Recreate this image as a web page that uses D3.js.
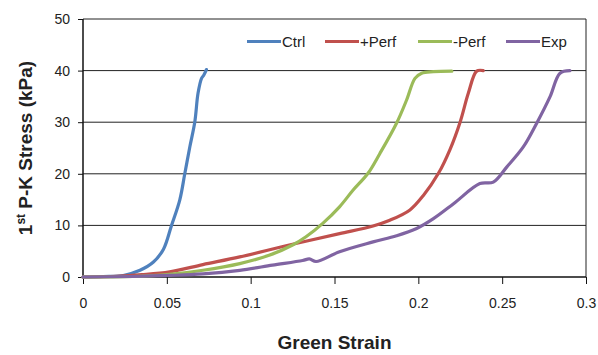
<!DOCTYPE html>
<html>
<head>
<meta charset="utf-8">
<script src="https://cdn.jsdelivr.net/npm/d3@7"></script>
<style>
  body { margin: 0; background: #fff; }
  text { font-family: "Liberation Sans", Arial, sans-serif; }
</style>
</head>
<body>
<div id="chart"></div>
<script>
// strain / stress pairs
const seriesNames = ["Ctrl", "+Perf", "-Perf", "Exp"];
const seriesColors = ["#4F81BD", "#C0504D", "#9BBB59", "#8064A2"];

const ctrlStrain  = [0, 0.012, 0.024, 0.034, 0.042, 0.048, 0.0527, 0.0577, 0.0607, 0.0637, 0.0667, 0.0686, 0.0707, 0.072, 0.0736];
const ctrlStress  = [0, 0.1, 0.3, 1.3, 2.9, 5.4, 9.9, 14.9, 20, 25.2, 30.1, 35.6, 38.5, 39.1, 40.2];

const posStrain   = [0, 0.02, 0.035, 0.0517, 0.0715, 0.0935, 0.123, 0.153, 0.173, 0.183, 0.195, 0.203, 0.212, 0.219, 0.225, 0.2298, 0.2348, 0.2387];
const posStress   = [0, 0.15, 0.45, 1.0, 2.4, 3.9, 6.2, 8.4, 9.9, 11, 13.0, 15.8, 20.1, 24.8, 30.1, 35.6, 39.9, 40];

const negStrain   = [0, 0.03, 0.0516, 0.0716, 0.0935, 0.111, 0.125, 0.133, 0.143, 0.153, 0.161, 0.170, 0.177, 0.187, 0.193, 0.198, 0.202, 0.209, 0.22];
const negStress   = [0, 0.1, 0.5, 1.3, 2.6, 4.2, 6.2, 7.8, 10.4, 13.6, 16.8, 20.1, 23.9, 29.8, 34.3, 38.5, 39.5, 39.8, 39.9];

const expStrain   = [0, 0.03, 0.0517, 0.0715, 0.0935, 0.113, 0.131, 0.135, 0.139, 0.153, 0.173, 0.187, 0.199, 0.209, 0.221, 0.2367, 0.2447, 0.2527, 0.2626, 0.2706, 0.2785, 0.2845, 0.2904];
const expStress   = [0, 0.1, 0.3, 0.6, 1.3, 2.3, 3.2, 3.5, 3.0, 4.9, 6.8, 8.0, 9.4, 11.3, 14.2, 18.1, 18.4, 21.3, 25.2, 29.8, 34.9, 39.5, 40];

const xTicks = [0, 0.05, 0.1, 0.15, 0.2, 0.25, 0.3];
const yTicks = [0, 10, 20, 30, 40, 50];

const allStrain = [ctrlStrain, posStrain, negStrain, expStrain];
const allStress = [ctrlStress, posStress, negStress, expStress];

const width = 598, height = 355;
const margin = {top: 19, right: 12, bottom: 78, left: 83};
const w = width - margin.left - margin.right;
const h = height - margin.top - margin.bottom;

const svg = d3.select("#chart").append("svg")
    .attr("width", width)
    .attr("height", height);

const g = svg.append("g")
    .attr("transform", `translate(${margin.left},${margin.top})`);

const x = d3.scaleLinear().domain([0, 0.3]).range([0, w]);
const y = d3.scaleLinear().domain([0, 50]).range([h, 0]);

// gridlines
g.append("g")
    .selectAll("line")
    .data(yTicks.filter(d => d > 0))
    .enter().append("line")
    .attr("x1", 0).attr("x2", w)
    .attr("y1", d => y(d)).attr("y2", d => y(d))
    .attr("stroke", "#222")
    .attr("stroke-width", 1);

// right border
g.append("line")
    .attr("x1", w).attr("x2", w)
    .attr("y1", 0).attr("y2", h)
    .attr("stroke", "#222");

// axes
const xAxis = g.append("g")
    .attr("transform", `translate(0,${h})`)
    .call(d3.axisBottom(x).tickValues(xTicks).tickSize(7).tickPadding(14)
        .tickFormat(d => d3.format("")(+d.toFixed(2))));
const yAxis = g.append("g")
    .call(d3.axisLeft(y).tickValues(yTicks).tickSize(5).tickPadding(8));

[xAxis, yAxis].forEach(a => {
    a.select(".domain").attr("stroke", "#111").attr("stroke-width", 1.5);
    a.selectAll(".tick line").attr("stroke", "#111");
    a.selectAll("text").attr("font-size", 14).attr("fill", "#222")
        .style("font-family", "Liberation Sans, Arial, sans-serif");
});
xAxis.select(".domain").attr("d", `M0,0H${w}`);
yAxis.select(".domain").attr("d", `M0,${h}V0`);

// lines
const line = d3.line()
    .x(d => x(d[0]))
    .y(d => y(d[1]))
    .curve(d3.curveCatmullRom.alpha(0.5));

allStrain.forEach((xs, i) => {
    const pts = xs.map((v, j) => [v, allStress[i][j]]);
    g.append("path")
        .datum(pts)
        .attr("fill", "none")
        .attr("stroke", seriesColors[i])
        .attr("stroke-width", 3.2)
        .attr("stroke-linejoin", "round")
        .attr("stroke-linecap", "round")
        .attr("d", line);
});

// legend
const legendX = [247, 325, 418, 506];
const legend = svg.append("g");
seriesNames.forEach((name, i) => {
    legend.append("line")
        .attr("x1", legendX[i]).attr("x2", legendX[i] + 34)
        .attr("y1", 41.5).attr("y2", 41.5)
        .attr("stroke", seriesColors[i])
        .attr("stroke-width", 3);
    legend.append("text")
        .attr("x", legendX[i] + 35)
        .attr("y", 46.5)
        .attr("font-size", 15)
        .attr("fill", "#222")
        .text(name);
});

// axis titles
svg.append("text")
    .attr("x", margin.left + w / 2)
    .attr("y", 349)
    .attr("text-anchor", "middle")
    .attr("font-size", 19)
    .attr("font-weight", "bold")
    .attr("fill", "#222")
    .text("Green Strain");

const yt = svg.append("text")
    .attr("transform", `translate(32,${margin.top + h / 2}) rotate(-90)`)
    .attr("text-anchor", "middle")
    .attr("font-size", 19)
    .attr("font-weight", "bold")
    .attr("fill", "#222");
yt.append("tspan").text("1");
yt.append("tspan").attr("font-size", 12).attr("dy", -7).text("st");
yt.append("tspan").attr("dy", 7).text(" P-K Stress (kPa)");
</script>
</body>
</html>
